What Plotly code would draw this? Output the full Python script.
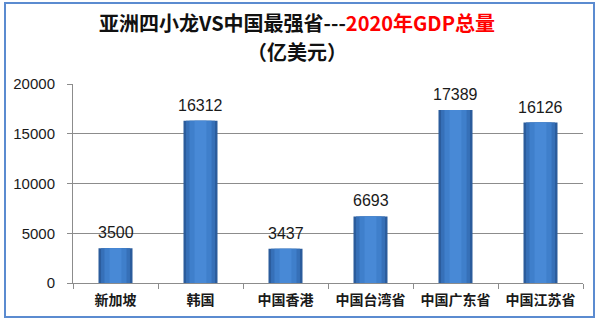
import plotly.graph_objects as go

categories = ["新加坡", "韩国", "中国香港", "中国台湾省", "中国广东省", "中国江苏省"]
gdp = [3500, 16312, 3437, 6693, 17389, 16126]
y_ticks = [0, 5000, 10000, 15000, 20000]

title_black = "亚洲四小龙VS中国最强省---"
title_red = "2020年GDP总量"
subtitle = "（亿美元）"

fig = go.Figure()
# layered bars to imitate a horizontal gradient
layers = [(0.40, "#2B5C9C"), (0.34, "#3670B8"), (0.26, "#3F7FCB"), (0.14, "#4889D6")]
for w, c in layers:
    fig.add_trace(go.Bar(x=categories, y=gdp, width=w, marker=dict(color=c, line=dict(width=0)),
                         hoverinfo="skip", showlegend=False))

annotations = [
    dict(text=f"<b>{title_black}<span style='color:#FF0000'>{title_red}</span></b>",
         xref="paper", yref="paper", x=0.44, y=(283 - 23) / 199, xanchor="center", yanchor="middle",
         showarrow=False, font=dict(family="Noto Sans CJK SC", size=20, color="#111")),
    dict(text=f"<b>{subtitle}</b>",
         xref="paper", yref="paper", x=0.44, y=(283 - 52) / 199, xanchor="center", yanchor="middle",
         showarrow=False, font=dict(family="Noto Sans CJK SC", size=20, color="#111")),
]
for cat, v in zip(categories, gdp):
    annotations.append(dict(x=cat, y=v, xref="x", yref="y", text=str(v), showarrow=False,
                            yanchor="bottom", yshift=5,
                            font=dict(family="Liberation Sans, Arial", size=16, color="#1a1a1a")))

fig.update_layout(
    width=600, height=323,
    margin=dict(l=73, r=17, t=84, b=40),
    paper_bgcolor="white", plot_bgcolor="white",
    barmode="overlay",
    showlegend=False,
    annotations=annotations,
    shapes=[dict(type="rect", xref="paper", yref="paper",
                 x0=(5 - 73) / 510, x1=(594 - 73) / 510, y0=(283 - 317) / 199, y1=(283 - 3) / 199,
                 line=dict(color="#5B8BD0", width=2), fillcolor="rgba(0,0,0,0)", layer="below")],
)

fig.update_yaxes(range=[0, 20000], tickvals=y_ticks, ticktext=[str(t) for t in y_ticks],
                 showgrid=True, gridcolor="#8C8C8C", gridwidth=1,
                 showline=True, linecolor="#8C8C8C", linewidth=1,
                 ticks="outside", ticklen=5, tickcolor="#8C8C8C", ticklabelstandoff=9,
                 tickfont=dict(family="Liberation Sans, Arial", size=15, color="#1a1a1a"),
                 zeroline=False)
fig.update_xaxes(showline=True, linecolor="#8C8C8C", linewidth=1,
                 ticks="outside", ticklen=5, tickcolor="#8C8C8C", tickson="boundaries",
                 ticklabelstandoff=4,
                 tickfont=dict(family="Noto Sans CJK SC", size=14, color="#1a1a1a", weight="bold"),
                 showgrid=False)

fig.write_html("out.html")
